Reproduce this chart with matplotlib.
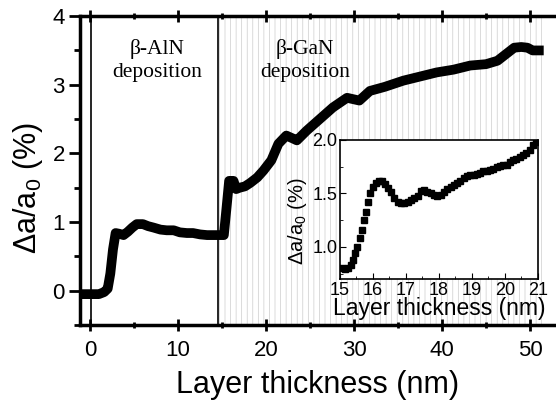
import numpy as np
import matplotlib.pyplot as plt
from matplotlib.ticker import MultipleLocator

plt.rcParams['font.family'] = ['Liberation Sans', 'DejaVu Sans']
plt.rcParams['mathtext.fontset'] = 'custom'
plt.rcParams['mathtext.rm'] = 'Liberation Sans'
plt.rcParams['mathtext.it'] = 'Liberation Sans:italic'
plt.rcParams['hatch.linewidth'] = 0.5

# curva principal
espesor = [-1.0, 0.0, 1.0, 1.6, 2.0, 2.3, 2.6, 2.9, 3.3, 3.8, 4.3, 4.8, 5.3, 6.0, 6.6,
           7.2, 8.0, 8.7, 9.5, 10.2, 11.0, 11.7, 12.5, 13.3, 14.2, 15.2, 15.5, 15.8,
           16.3, 16.6, 17.0, 17.6, 18.2, 19.0, 19.7, 20.6, 21.4, 22.3, 23.0, 23.5,
           24.6, 26.1, 27.6, 29.2, 30.6, 31.8, 33.5, 35.6, 37.5, 39.4, 41.3, 43.2,
           45.0, 46.3, 47.3, 48.2, 49.0, 49.7, 50.3, 51.0]
da = [-0.05, -0.05, -0.05, -0.02, 0.03, 0.25, 0.6, 0.84, 0.83, 0.81, 0.86, 0.92,
      0.97, 0.97, 0.94, 0.92, 0.89, 0.88, 0.88, 0.85, 0.84, 0.84, 0.82, 0.81, 0.81,
      0.81, 1.2, 1.6, 1.6, 1.48, 1.5, 1.52, 1.57, 1.65, 1.75, 1.9, 2.14, 2.26, 2.22,
      2.19, 2.33, 2.5, 2.67, 2.81, 2.77, 2.91, 2.97, 3.06, 3.12, 3.18, 3.22, 3.28,
      3.3, 3.35, 3.45, 3.54, 3.55, 3.54, 3.5, 3.5]

# inset 15-21 nm
espesor_in = [15.05, 15.15, 15.25, 15.32, 15.40, 15.47, 15.53, 15.60, 15.66, 15.72,
              15.78, 15.85, 15.92, 16.00, 16.08, 16.17, 16.27, 16.36, 16.45, 16.55,
              16.65, 16.75, 16.85, 16.95, 17.05, 17.15, 17.25, 17.35, 17.45, 17.55,
              17.65, 17.75, 17.85, 17.95, 18.05, 18.15, 18.25, 18.35, 18.45, 18.55,
              18.65, 18.75, 18.85, 18.95, 19.05, 19.15, 19.25, 19.35, 19.45, 19.55,
              19.65, 19.75, 19.85, 19.95, 20.05, 20.15, 20.25, 20.35, 20.45, 20.55,
              20.65, 20.75, 20.85, 20.95]
da_in = [0.80, 0.79, 0.80, 0.83, 0.88, 0.94, 1.00, 1.08, 1.16, 1.25, 1.33, 1.42,
         1.50, 1.56, 1.60, 1.62, 1.62, 1.59, 1.55, 1.51, 1.46, 1.42, 1.41, 1.41,
         1.42, 1.44, 1.46, 1.48, 1.52, 1.53, 1.51, 1.50, 1.49, 1.48, 1.49, 1.51,
         1.54, 1.56, 1.58, 1.60, 1.62, 1.64, 1.66, 1.67, 1.67, 1.68, 1.69, 1.71,
         1.71, 1.72, 1.73, 1.75, 1.76, 1.77, 1.77, 1.79, 1.81, 1.82, 1.84, 1.86,
         1.88, 1.91, 1.95, 1.98]

inicio_aln = 0.1
inicio_gan = 14.5
fin_gan = 51.4

fig = plt.figure(figsize=(5.56, 4.13), dpi=100)
ax = fig.add_axes([0.144, 0.213, 0.856, 0.748])

ax.axvspan(inicio_gan, fin_gan, facecolor='white', edgecolor='#cccccc', hatch='|||', lw=0)
ax.axvline(inicio_aln, color='k', lw=1.2)
ax.axvline(inicio_gan, color='k', lw=1.2)
ax.plot(espesor, da, 'k', lw=7, solid_joinstyle='round')

ax.text(7.6, 3.35, 'β-AlN\ndeposition', family='Liberation Serif', fontsize=15.5,
        ha='center', va='center', linespacing=1.3)
ax.text(24.4, 3.35, 'β-GaN\ndeposition', family='Liberation Serif', fontsize=15.5,
        ha='center', va='center', linespacing=1.3)

ax.set_xlim(-1.14, 52.95)
ax.set_ylim(-0.5, 4)
ax.xaxis.set_major_locator(MultipleLocator(10))
ax.xaxis.set_minor_locator(MultipleLocator(5))
ax.yaxis.set_major_locator(MultipleLocator(1))
ax.yaxis.set_minor_locator(MultipleLocator(0.5))
ax.tick_params(axis='y', which='both', direction='out', right=True, labelsize=16, pad=3)
ax.tick_params(axis='y', which='major', length=8, width=2)
ax.tick_params(axis='y', which='minor', length=4, width=2)
ax.tick_params(axis='x', which='both', direction='inout', top=True, labelsize=16, pad=6)
ax.tick_params(axis='x', which='major', length=9, width=2)
ax.tick_params(axis='x', which='minor', length=5, width=2)
for s in ['left', 'bottom', 'top']:
    ax.spines[s].set_linewidth(2.5)
ax.spines['right'].set_visible(False)

ax.set_xlabel('Layer thickness (nm)', fontsize=22)
ax.xaxis.set_label_coords(0.5, -0.145)
ax.set_ylabel('Δa/a$_0$ (%)', fontsize=22)
ax.yaxis.set_label_coords(-0.074, 0.443)

# inset
axi = fig.add_axes([0.6115, 0.3245, 0.356, 0.3366])
axi.plot(espesor_in, da_in, 'ks', ms=5)
axi.set_xlim(15, 21)
axi.set_ylim(0.7, 2.0)
axi.xaxis.set_major_locator(MultipleLocator(1))
axi.xaxis.set_minor_locator(MultipleLocator(0.5))
axi.yaxis.set_minor_locator(MultipleLocator(0.25))
axi.set_yticks([1.0, 1.5, 2.0])
axi.set_yticklabels(['1.0', '1.5', '2.0'])
axi.tick_params(which='both', direction='in', labelsize=13, pad=2)
axi.tick_params(which='major', length=4)
axi.tick_params(which='minor', length=2)
for s in axi.spines.values():
    s.set_linewidth(1.2)
axi.set_xlabel('Layer thickness (nm)', fontsize=16.5, labelpad=-1)
axi.set_ylabel('Δa/a$_0$ (%)', fontsize=14.5)
axi.yaxis.set_label_coords(-0.155, 0.417)

fig.savefig('out.png', dpi=100)
